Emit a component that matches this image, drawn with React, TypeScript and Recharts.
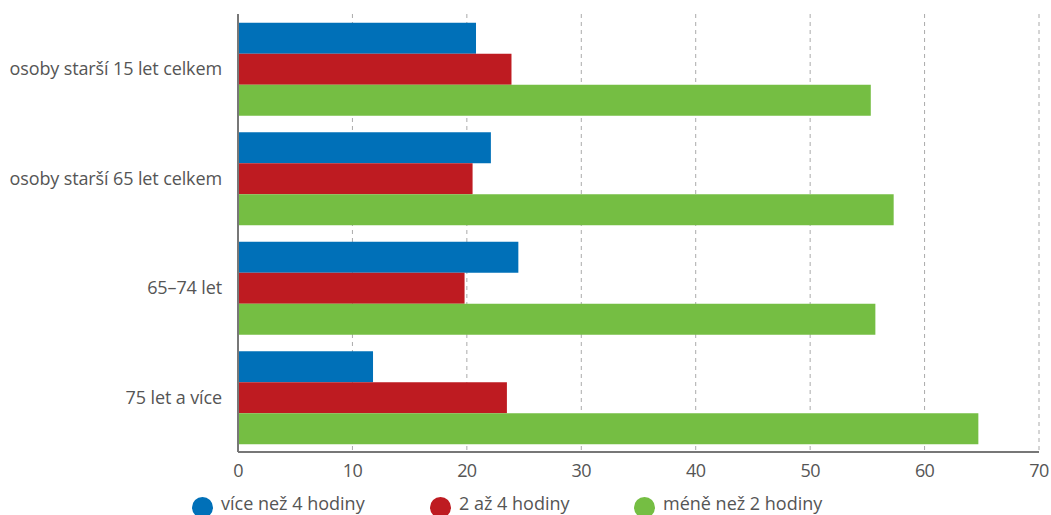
import { BarChart, Bar, XAxis, YAxis, CartesianGrid, Legend } from "recharts";

const categories = [
  "osoby starší 15 let celkem",
  "osoby starší 65 let celkem",
  "65–74 let",
  "75 let a více",
];
const viceNez4 = [20.8, 22.1, 24.5, 11.8];
const az2do4 = [23.9, 20.5, 19.8, 23.5];
const meneNez2 = [55.3, 57.3, 55.7, 64.7];
const xTicks = [0, 10, 20, 30, 40, 50, 60, 70];

const seriesNames = ["více než 4 hodiny", "2 až 4 hodiny", "méně než 2 hodiny"];
const colors = ["#0070b8", "#be1b21", "#75be43"];

const data = categories.map((name, i) => ({
  name,
  a: viceNez4[i],
  b: az2do4[i],
  c: meneNez2[i],
}));

const FONT = "'Open Sans', sans-serif";
// left edge of each legend circle
const legendX = [192, 430, 634];

function LegendRow() {
  return (
    <div style={{ position: "relative", height: 26, fontFamily: FONT, fontSize: 18, color: "#555" }}>
      {seriesNames.map((s, i) => (
        <div key={s}>
          <span
            style={{
              position: "absolute",
              left: legendX[i],
              top: 8,
              width: 21,
              height: 21,
              borderRadius: "50%",
              background: colors[i],
            }}
          />
          <span style={{ position: "absolute", left: legendX[i] + 29, top: 2, whiteSpace: "nowrap", lineHeight: "25px" }}>
            {s}
          </span>
        </div>
      ))}
    </div>
  );
}

export default function App() {
  return (
    <div style={{ position: "absolute", left: 0, top: 0, width: 1051, height: 515, background: "#fff", overflow: "hidden" }}>
      <BarChart
        width={1051}
        height={515}
        data={data}
        layout="vertical"
        margin={{ top: 14, right: 12, bottom: 0, left: 0 }}
        barCategoryGap="8%"
        barGap={0}
      >
        <CartesianGrid horizontal={false} stroke="#aaa" strokeDasharray="4 4" />
        <XAxis
          type="number"
          domain={[0, 70]}
          ticks={xTicks}
          height={37}
          tickSize={0}
          tickMargin={12}
          axisLine={{ stroke: "#777", strokeWidth: 2 }}
          tick={{ fill: "#555", fontSize: 18, fontFamily: FONT, letterSpacing: -0.6 }}
        />
        <YAxis
          type="category"
          dataKey="name"
          width={238}
          tickSize={0}
          tickMargin={16}
          axisLine={{ stroke: "#777", strokeWidth: 2 }}
          tick={{ fill: "#555", fontSize: 18, fontFamily: FONT, letterSpacing: -0.12 }}
        />
        <Legend verticalAlign="bottom" height={26} content={() => <LegendRow />} />
        <Bar dataKey="a" name={seriesNames[0]} fill={colors[0]} isAnimationActive={false} />
        <Bar dataKey="b" name={seriesNames[1]} fill={colors[1]} isAnimationActive={false} />
        <Bar dataKey="c" name={seriesNames[2]} fill={colors[2]} isAnimationActive={false} />
      </BarChart>
    </div>
  );
}
